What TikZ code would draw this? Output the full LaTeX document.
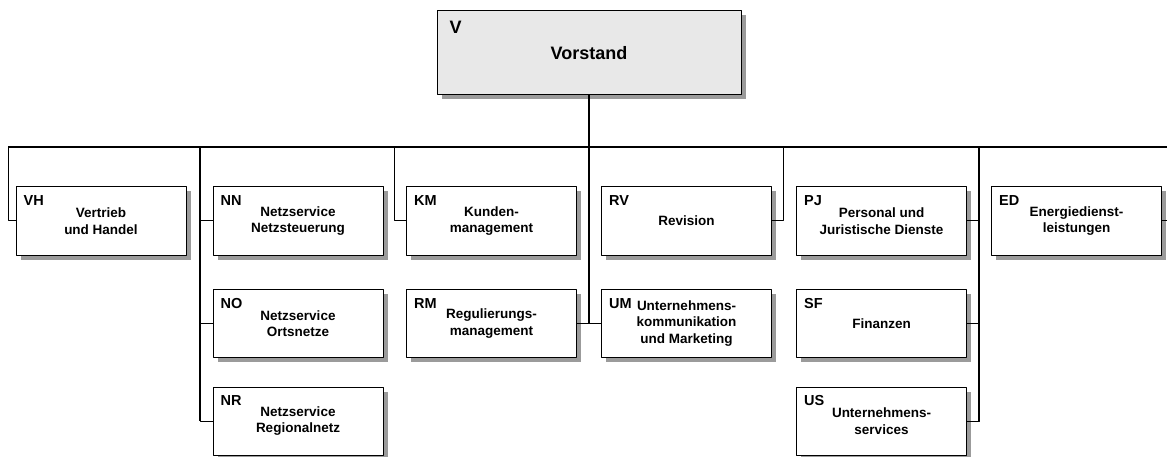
\documentclass[tikz,border=0pt]{standalone}
\usepackage{fontspec}
\setmainfont{Liberation Sans}
\usetikzlibrary{shadows}
\definecolor{boxgray}{RGB}{232,232,232}
\definecolor{shadowgray}{RGB}{155,155,155}
\begin{document}
\begin{tikzpicture}[x=1pt, y=1pt, line join=round,
	box/.style={draw, line width=1pt, fill=white, minimum width=170, minimum height=68, inner sep=0pt, align=center,
		font=\bfseries\fontsize{13.5}{16.5}\selectfont,
		general shadow={fill=shadowgray, shadow xshift=4.5pt, shadow yshift=-4.5pt}},
	topbox/.style={box, fill=boxgray, minimum width=304, minimum height=84, font=\bfseries\fontsize{18}{20}\selectfont},
	code/.style={anchor=north west, inner sep=0pt, font=\bfseries\fontsize{14.5}{16}\selectfont},
	bus/.style={line width=1.6pt},
	link/.style={line width=1pt}]
	\useasboundingbox (0,0) rectangle (1167,-457);
	\node[topbox] (V) at (589,-53) {Vorstand};
	\node[code, font=\bfseries\fontsize{18}{20}\selectfont] at ([shift={(13,-10)}]V.north west) {V};
	\foreach \n/\x/\y/\t in {VH/101/221/{Vertrieb\\und Handel}, NN/298/221/{Netzservice\\Netzsteuerung},
		KM/491.5/221/{Kunden-\\management}, RV/686.5/221/{Revision},
		PJ/881.5/221/{Personal und\\Juristische Dienste}, ED/1076.5/221/{Energiedienst-\\leistungen},
		NO/298/323.5/{Netzservice\\Ortsnetze}, RM/491.5/323.5/{Regulierungs-\\management},
		UM/686.5/323.5/{Unternehmens-\\kommunikation\\und Marketing}, SF/881.5/323.5/{Finanzen},
		NR/298/421/{Netzservice\\Regionalnetz}, US/881.5/421/{Unternehmens-\\services}}
	{\node[box] (\n) at (\x,-\y) {\t};
		\node[code] at ([shift={(8,-9)}]\n.north west) {\n};}
	% Verbindungen
	\foreach \c/\x in {b1/8, b2/200, b3/394, b4/589, b5/783, b6/979}
	\coordinate (\c) at (\x,-147);
	\coordinate (bR) at (1167,-147);
	\coordinate (eR) at (1167,-221);
	\draw[bus] (b1) -- (bR);
	\draw[line width=2pt] (V.south) -- (b4);
	\draw[bus] (b2) -- (b2 |- NR.west);
	\draw[bus] (b4) -- (b4 |- UM.west);
	\draw[bus] (b6) -- (b6 |- US.east);
	\foreach \c/\n/\s in {b1/VH/west, b2/NN/west, b2/NO/west, b2/NR/west, b3/KM/west, b4/RM/east,
		b4/UM/west, b5/RV/east, b6/PJ/east, b6/SF/east, b6/US/east}
	\draw[link] (\c) |- (\n.\s);
	\draw[link] (ED.east) -- (eR);
\end{tikzpicture}
\end{document}
